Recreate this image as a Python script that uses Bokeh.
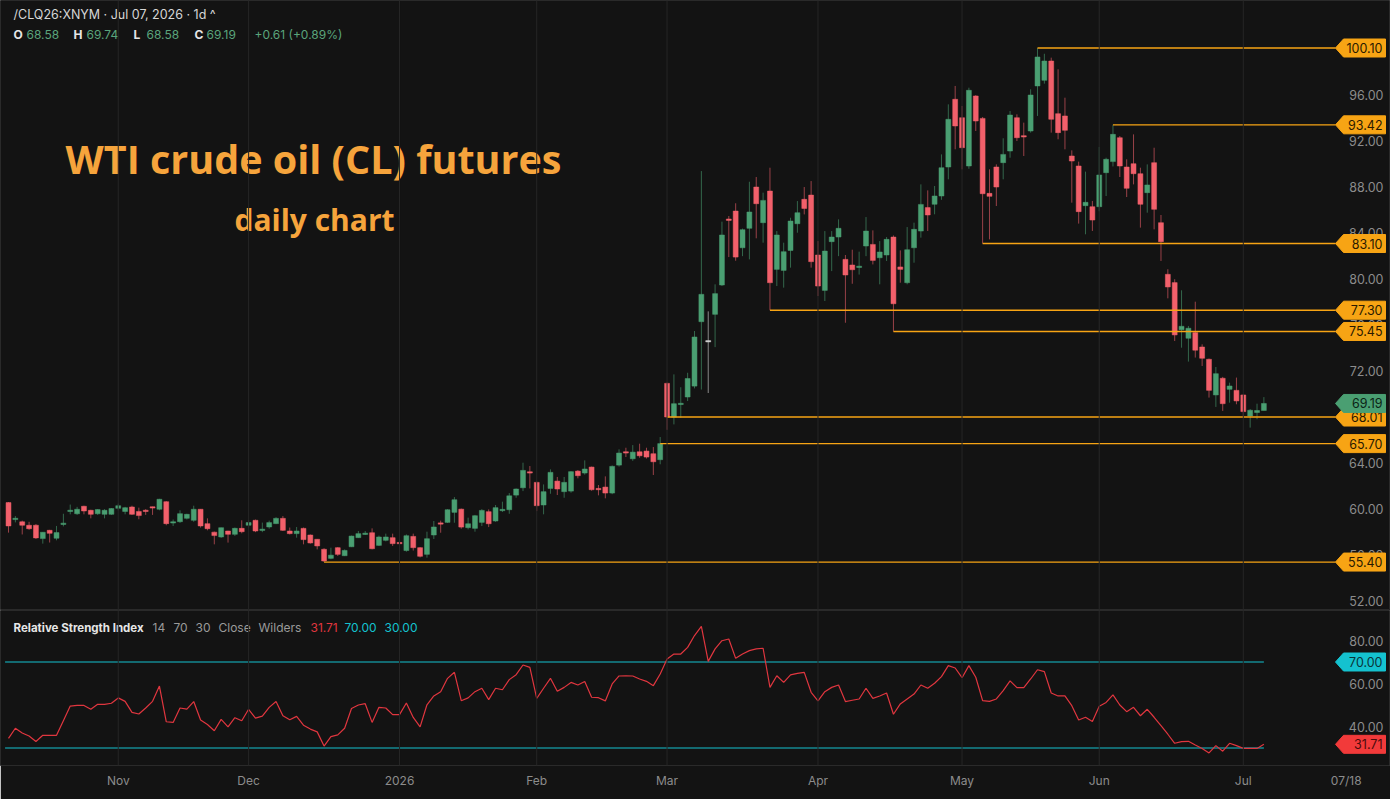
import numpy as np
import pandas as pd
from bokeh.plotting import figure
from bokeh.layouts import column
from bokeh.models import Range1d, ColumnDataSource, Span, FixedTicker
from bokeh.embed import file_html
from bokeh.resources import INLINE
from bokeh.core.properties import value

# ---------------- data ----------------
symbol = "/CLQ26:XNYM"
interval = "1d"
holidays = ["2025-11-27", "2025-12-25", "2026-01-01", "2026-01-19", "2026-02-16",
            "2026-04-03", "2026-05-25", "2026-06-19", "2026-07-03"]
dates = pd.bdate_range("2025-10-10", "2026-07-07", freq="C", holidays=holidays)

open_ = [60.57, 59.10, 58.90, 58.60, 58.60, 57.44, 58.16, 57.47, 58.70, 59.80,
         59.60, 60.25, 59.90, 59.60, 59.55, 59.55, 60.07, 59.80, 60.19, 59.80,
         59.90, 60.20, 59.99, 60.65, 58.80, 58.91, 59.20, 59.03, 59.99, 58.74,
         58.00, 57.58, 58.10, 57.81, 58.33, 58.60, 59.03, 58.16, 58.45, 58.74,
         59.20, 58.10, 57.87, 58.33, 57.75, 57.38, 56.51, 55.72, 56.65, 55.95,
         56.73, 57.52, 57.81, 57.95, 56.85, 57.29, 57.52, 57.10, 56.40, 57.63,
         56.65, 56.07, 57.75, 58.80, 58.85, 59.72, 60.00, 58.39, 58.33, 58.85,
         59.78, 58.97, 59.90, 59.95, 61.22, 61.86, 63.25, 62.33, 60.36, 61.80,
         62.44, 61.52, 61.57, 63.31, 63.14, 63.66, 61.80, 61.92, 61.40, 63.83,
         64.99, 64.38, 64.99, 65.05, 64.82, 64.30, 70.94, 68.00, 69.10, 69.75,
         70.70, 76.30, 74.60, 76.94, 79.49, 85.23, 85.92, 82.73, 84.42, 88.01,
         84.91, 87.66, 80.85, 80.76, 82.50, 84.82, 86.94, 87.31, 82.10, 79.02,
         83.26, 83.66, 81.72, 81.23, 81.03, 82.88, 83.02, 81.86, 82.10, 83.66,
         81.06, 79.69, 82.73, 84.18, 86.22, 86.51, 87.23, 89.75, 95.64, 94.04,
         89.84, 95.93, 93.98, 87.46, 89.75, 90.13, 91.14, 94.04, 92.48, 92.88,
         96.80, 97.29, 98.97, 94.39, 94.19, 90.71, 89.84, 86.39, 86.30, 86.30,
         89.26, 90.22, 92.30, 89.75, 90.04, 89.17, 87.52, 90.13, 84.91, 80.42,
         79.70, 75.60, 74.86, 75.35, 74.10, 73.03, 69.93, 71.38, 70.42, 70.33,
         69.93, 68.10, 68.40, 68.58]
high_ = [60.62, 59.40, 59.00, 58.90, 58.70, 58.00, 58.20, 58.54, 59.60, 60.40,
         60.20, 60.30, 59.95, 60.00, 60.00, 60.10, 60.48, 60.20, 60.30, 60.13,
         60.00, 60.22, 60.90, 60.70, 59.10, 59.90, 59.60, 60.30, 60.00, 59.20,
         58.05, 58.40, 58.12, 58.40, 59.03, 59.03, 59.10, 58.83, 59.00, 59.30,
         59.40, 58.40, 58.45, 58.40, 57.80, 57.40, 56.60, 56.65, 56.70, 56.50,
         57.70, 58.10, 58.10, 58.33, 57.70, 57.87, 57.87, 57.46, 57.80, 57.87,
         56.70, 58.04, 58.97, 59.00, 60.00, 61.05, 60.05, 59.26, 59.50, 60.00,
         59.98, 60.36, 60.65, 61.40, 61.80, 64.04, 63.75, 62.40, 62.15, 63.46,
         62.80, 62.80, 63.30, 63.40, 64.24, 63.70, 62.10, 62.85, 63.80, 65.20,
         65.34, 65.57, 65.69, 65.34, 65.40, 66.27, 71.00, 71.72, 70.60, 71.86,
         75.49, 89.40, 77.20, 79.55, 85.00, 85.49, 86.60, 84.40, 88.47, 88.88,
         87.52, 89.69, 84.18, 83.17, 85.34, 86.79, 88.01, 88.53, 83.31, 84.18,
         84.18, 85.20, 82.10, 82.56, 82.39, 85.40, 84.24, 83.31, 83.66, 83.80,
         82.50, 84.53, 84.91, 88.24, 87.72, 88.10, 90.85, 95.20, 96.80, 95.06,
         96.65, 96.00, 94.10, 89.55, 89.98, 92.25, 94.62, 94.33, 93.61, 96.51,
         100.10, 99.60, 99.26, 98.25, 95.78, 91.20, 90.22, 89.35, 86.80, 91.49,
         90.56, 93.42, 92.45, 90.42, 92.59, 89.69, 89.98, 91.43, 85.58, 80.86,
         79.99, 79.03, 75.93, 78.04, 74.33, 73.10, 72.36, 71.50, 71.00, 71.44,
         70.00, 68.70, 69.17, 69.74]
low_ = [57.96, 58.85, 57.80, 58.20, 57.40, 57.00, 57.10, 57.29, 58.50, 59.55,
        59.50, 59.55, 59.20, 59.50, 59.20, 59.50, 59.90, 59.55, 59.50, 59.12,
        59.50, 59.50, 59.90, 58.60, 58.54, 58.80, 59.10, 58.90, 58.40, 58.16,
        56.94, 57.50, 57.09, 57.67, 57.90, 58.40, 58.00, 58.00, 58.30, 58.70,
        58.10, 57.80, 57.52, 56.94, 57.00, 56.50, 55.40, 55.64, 55.93, 55.92,
        56.70, 57.50, 57.75, 56.50, 56.80, 57.20, 56.80, 56.40, 56.30, 56.40,
        55.80, 55.78, 57.40, 57.95, 58.80, 58.82, 58.30, 58.24, 58.04, 58.53,
        58.44, 58.90, 59.75, 59.60, 60.99, 61.57, 61.80, 59.83, 59.55, 61.34,
        61.23, 60.99, 61.43, 62.68, 63.00, 61.60, 61.20, 60.94, 61.30, 63.70,
        64.53, 64.20, 64.47, 64.40, 62.97, 63.90, 66.90, 67.37, 67.95, 69.40,
        70.50, 70.40, 70.10, 74.09, 79.40, 81.92, 81.60, 82.00, 81.72, 83.55,
        83.17, 77.30, 79.40, 79.26, 81.00, 84.04, 85.63, 81.00, 78.53, 78.10,
        80.70, 82.00, 76.21, 79.60, 80.40, 82.00, 81.28, 79.55, 81.58, 75.45,
        79.69, 79.55, 81.43, 83.61, 84.19, 85.64, 86.90, 88.68, 91.29, 89.55,
        89.60, 92.88, 83.10, 83.46, 86.36, 88.68, 90.56, 92.01, 90.71, 92.74,
        94.19, 97.00, 92.74, 92.16, 91.29, 86.65, 84.83, 83.90, 84.19, 85.90,
        87.23, 89.80, 88.88, 87.14, 88.24, 84.48, 85.78, 84.33, 81.58, 78.33,
        74.62, 74.04, 72.83, 73.18, 72.45, 69.70, 68.89, 68.54, 69.26, 69.12,
        67.96, 67.09, 67.82, 68.58]
close_ = [58.54, 59.20, 58.60, 58.30, 57.50, 57.99, 57.90, 57.96, 58.75, 59.90,
          59.99, 59.84, 59.55, 59.96, 59.90, 60.05, 60.30, 60.13, 59.55, 59.44,
          59.80, 60.10, 60.86, 58.74, 58.90, 59.61, 59.55, 59.99, 58.54, 58.30,
          57.70, 58.39, 57.81, 58.33, 58.04, 58.83, 58.10, 58.25, 58.83, 59.20,
          58.16, 57.87, 58.10, 57.35, 57.06, 56.80, 55.49, 56.00, 56.07, 56.41,
          57.66, 57.87, 57.90, 56.56, 57.58, 57.58, 57.00, 57.00, 57.69, 56.65,
          55.90, 57.43, 58.45, 58.70, 59.95, 60.82, 58.44, 58.73, 59.43, 59.89,
          58.73, 60.13, 59.95, 61.16, 61.75, 63.37, 63.14, 60.30, 61.52, 63.20,
          61.75, 62.33, 63.26, 62.91, 63.49, 61.69, 61.69, 61.40, 63.72, 64.88,
          64.88, 64.96, 64.64, 64.53, 64.12, 65.70, 68.01, 69.17, 69.20, 71.36,
          74.97, 78.68, 74.60, 78.74, 83.84, 85.11, 81.92, 84.30, 85.84, 86.56,
          86.85, 79.69, 83.84, 82.39, 85.05, 85.78, 86.15, 81.52, 79.40, 82.44,
          83.66, 84.42, 80.36, 80.82, 81.11, 84.18, 81.63, 82.36, 83.46, 77.86,
          80.85, 82.56, 84.33, 86.50, 85.58, 87.23, 89.69, 93.90, 93.32, 91.43,
          96.42, 93.75, 87.43, 87.20, 88.01, 90.85, 94.27, 92.30, 92.36, 96.01,
          99.32, 98.97, 93.90, 92.74, 92.94, 90.27, 85.87, 86.68, 85.14, 89.06,
          90.42, 92.59, 89.84, 87.90, 89.17, 86.51, 88.19, 86.07, 83.26, 79.32,
          75.15, 75.90, 75.73, 73.82, 73.12, 70.33, 71.78, 69.17, 70.71, 69.41,
          68.48, 68.60, 68.58, 69.19]
rsi_ = [34.5, 39.2, 37.0, 35.6, 33.0, 35.9, 35.9, 35.9, 42.7, 49.5,
        49.8, 49.8, 48.0, 50.3, 50.3, 50.8, 53.3, 51.7, 46.6, 45.8,
        48.6, 51.7, 58.8, 42.2, 41.9, 48.6, 48.1, 51.6, 43.0, 40.9,
        38.0, 43.3, 39.8, 44.1, 42.7, 48.0, 43.9, 44.8, 48.9, 51.6,
        45.0, 43.1, 44.7, 40.6, 38.8, 37.5, 30.9, 35.3, 36.1, 39.2,
        48.4, 50.0, 50.6, 41.9, 48.9, 48.6, 45.5, 45.5, 50.9, 44.2,
        39.8, 50.1, 54.2, 56.2, 62.4, 65.2, 52.0, 53.3, 56.2, 57.8,
        52.5, 57.8, 57.1, 61.8, 64.1, 68.6, 67.5, 53.1, 57.8, 62.4,
        56.4, 58.2, 60.5, 59.3, 60.9, 53.6, 53.4, 51.9, 59.8, 63.5,
        63.6, 63.5, 62.1, 61.0, 59.0, 64.4, 71.4, 73.7, 73.7, 76.8,
        82.3, 86.6, 70.3, 76.1, 79.9, 80.7, 71.7, 73.7, 75.3, 76.1,
        76.4, 58.2, 63.6, 60.5, 64.0, 64.7, 65.2, 55.9, 51.9, 56.2,
        58.2, 59.3, 51.6, 52.2, 52.8, 57.8, 53.1, 54.2, 55.6, 45.7,
        50.5, 52.8, 55.1, 59.3, 57.8, 60.1, 63.2, 68.3, 67.2, 62.7,
        68.3, 62.9, 52.0, 51.7, 52.8, 56.7, 61.2, 58.1, 58.1, 62.1,
        66.4, 65.5, 55.6, 54.2, 54.2, 49.7, 43.0, 44.3, 42.3, 49.4,
        51.2, 54.7, 50.0, 46.9, 48.9, 45.0, 48.0, 44.3, 40.4, 36.4,
        32.2, 33.0, 33.1, 31.4, 29.8, 27.7, 31.1, 28.5, 32.2, 31.1,
        29.8, 29.8, 29.8, 31.71]

level_values = [100.10, 93.42, 83.10, 77.30, 75.45, 68.01, 65.70, 55.40]
level_dates = ["2026-05-18", "2026-06-03", "2026-05-06", "2026-03-23",
               "2026-04-17", "2026-03-02", "2026-02-27", "2025-12-16"]
price_ticks = [52, 56, 60, 64, 68, 72, 76, 80, 84, 88, 92, 96]
rsi_ticks = [40, 60, 80]
rsi_bands = [70, 30]
rsi_params = ["14", "70", "30", "Close", "Wilders"]
future_label = "07/18"
title_text = "WTI crude oil (CL) futures"
subtitle_text = "daily chart"

# ---------------- style / layout ----------------
BG = "#131313"
GRID = "#262626"
GREEN = "#4a9f72"
RED = "#f2606b"
DOJI = "#d9d9d9"
ORANGE = "#f7a414"
TITLE_C = "#f6a43c"
CYAN = "#14c2cf"
RSI_C = "#e0363f"
AX_TXT = "#8c8c8c"
FONT = "Inter"

W = 1390
H_PRICE = 610
H_RSI = 189
AX_H = 34
PXB = 6.86          # px per bar
X0 = 8.0            # px of first bar
P_PX = 11.5         # px per price unit
R_PX = 2.15         # px per RSI unit

n = len(close_)
idx = np.arange(n)
x_lo = -X0 / PXB
x_hi = (W - X0) / PXB
xr = Range1d(x_lo, x_hi)

P_TOP = 100.10 + 47.5 / P_PX
P_BOT = P_TOP - H_PRICE / P_PX
R_TOP = 70 + 51.5 / R_PX
R_BOT = R_TOP - (H_RSI - AX_H) / R_PX


def xd(px):
    return x_lo + px / PXB


def yp(py):
    return P_TOP - py / P_PX


def yr(py):
    return R_TOP - (py - H_PRICE) / R_PX


month_pos = []
month_lab = []
prev = None
for i, d in enumerate(dates):
    key = (d.year, d.month)
    if prev is not None and key != prev:
        month_pos.append(i)
        month_lab.append(str(d.year) if d.month == 1 else d.strftime("%b"))
    prev = key

p = figure(width=W, height=H_PRICE, x_range=xr, y_range=Range1d(P_BOT, P_TOP),
           output_backend="svg", toolbar_location=None, min_border=0,
           x_axis_location=None, y_axis_location=None,
           background_fill_color=BG, border_fill_color=BG,
           outline_line_color="#2a2a2a")
p.grid.visible = False

for m in month_pos:
    p.add_layout(Span(location=m, dimension="height", line_color=GRID, line_width=1))

o = np.array(open_); h = np.array(high_); l = np.array(low_); c = np.array(close_)
cols = np.where(c > o, GREEN, np.where(c < o, RED, DOJI))
top = np.maximum(o, c)
bot = np.minimum(o, c)
mid = (top + bot) / 2
mh = 1.3 / P_PX
small = (top - bot) < mh
top = np.where(small, mid + mh / 2, top)
bot = np.where(small, mid - mh / 2, bot)
src = ColumnDataSource(dict(x=idx, h=h, l=l, top=top, bot=bot, col=cols))
p.segment(x0="x", y0="l", x1="x", y1="h", line_color="col", line_alpha=0.6,
          line_width=1, source=src)
p.vbar(x="x", width=0.72, top="top", bottom="bot", fill_color="col",
       line_color="col", line_width=0.5, source=src)

# price tick labels
p.text(x=[xd(1383)] * len(price_ticks), y=price_ticks,
       text=["%.2f" % v for v in price_ticks], text_align="right",
       text_baseline="middle", text_color=AX_TXT, text_font=value(FONT),
       text_font_size="12.5px")

TIP, CORNER, RIGHT, HALF = 1335, 1343, 1385, 9


def tag(fig, yv, ppu, fill, label, tcolor):
    xs = [xd(TIP), xd(CORNER), xd(RIGHT), xd(RIGHT), xd(CORNER)]
    hh = HALF / ppu
    ys = [yv, yv + hh, yv + hh, yv - hh, yv - hh]
    fig.patch(xs, ys, fill_color=fill, line_color=fill)
    fig.text(x=[xd(1382)], y=[yv], text=[label], text_align="right",
             text_baseline="middle", text_color=tcolor, text_font=value(FONT),
             text_font_size="12.5px")


# level lines
lvl_start = [dates.get_loc(pd.Timestamp(d)) for d in level_dates]
for s, v in zip(lvl_start, level_values):
    p.line([s, xd(TIP)], [v, v], line_color=ORANGE, line_width=1.35)
for v in level_values:
    tag(p, v, P_PX, ORANGE, "%.2f" % v, "#2a1a00")
tag(p, close_[-1], P_PX, GREEN, "%.2f" % close_[-1], "#0c2416")

# header
chg = close_[-1] - close_[-2]
pct = chg / close_[-2] * 100
hdr1 = "%s · %s · %s ^" % (symbol, dates[-1].strftime("%b %d, %Y"), interval)
p.text(x=[xd(13)], y=[yp(14)], text=[hdr1], text_baseline="middle",
       text_color="#d6d6d6", text_font=value(FONT), text_font_size="12.5px")
seg = [("O", 13, "#e6e6e6", "bold"), ("%.2f" % open_[-1], 26, "#5aa57c", "normal"),
       ("H", 73, "#e6e6e6", "bold"), ("%.2f" % high_[-1], 86, "#5aa57c", "normal"),
       ("L", 133, "#e6e6e6", "bold"), ("%.2f" % low_[-1], 146, "#5aa57c", "normal"),
       ("C", 194, "#e6e6e6", "bold"), ("%.2f" % close_[-1], 206, "#5aa57c", "normal"),
       ("%+.2f (%+.2f%%)" % (chg, pct), 254, "#5aa57c", "normal")]
for t, px, colr, st in seg:
    p.text(x=[xd(px)], y=[yp(34)], text=[t], text_baseline="middle",
           text_color=colr, text_font=value(FONT), text_font_size="12px",
           text_font_style=st)

p.text(x=[xd(313)], y=[yp(158)], text=[title_text], text_align="center",
       text_baseline="middle", text_color=TITLE_C, text_font=value("Open Sans"),
       text_font_size="39.5px", text_font_style="bold")
p.text(x=[xd(314)], y=[yp(219)], text=[subtitle_text], text_align="center",
       text_baseline="middle", text_color=TITLE_C, text_font=value("Open Sans"),
       text_font_size="30px", text_font_style="bold")

# ---------------- RSI pane ----------------
r = figure(width=W, height=H_RSI, x_range=xr, y_range=Range1d(R_BOT, R_TOP),
           output_backend="svg", toolbar_location=None, min_border=0,
           min_border_bottom=AX_H, y_axis_location=None,
           background_fill_color=BG, border_fill_color=BG,
           outline_line_color="#2a2a2a")
r.grid.visible = False
for m in month_pos:
    r.add_layout(Span(location=m, dimension="height", line_color=GRID, line_width=1))

tick_pos = month_pos + [n - 1 + 12]
tick_lab = month_lab + [future_label]
r.xaxis.ticker = FixedTicker(ticks=tick_pos)
r.xaxis.major_label_overrides = {k: v for k, v in zip(tick_pos, tick_lab)}
r.xaxis.axis_line_color = None
r.xaxis.major_tick_line_color = None
r.xaxis.minor_tick_line_color = None
r.xaxis.major_tick_out = 0
r.xaxis.major_tick_in = 0
r.xaxis.major_label_standoff = 7
r.xaxis.major_label_text_color = AX_TXT
r.xaxis.major_label_text_font = FONT
r.xaxis.major_label_text_font_size = "12px"

for b in rsi_bands:
    r.line([-0.5, n - 1], [b, b], line_color=CYAN, line_width=1.1)
r.line(idx, rsi_, line_color=RSI_C, line_width=1.2)

r.text(x=[xd(1383)] * len(rsi_ticks), y=rsi_ticks,
       text=["%.2f" % v for v in rsi_ticks], text_align="right",
       text_baseline="middle", text_color=AX_TXT, text_font=value(FONT),
       text_font_size="12.5px")
tag(r, 70, R_PX, CYAN, "70.00", "#0b3438")
tag(r, rsi_[-1], R_PX, "#f23a3a", "%.2f" % rsi_[-1], "#4a0b0b")

rseg = [("Relative Strength Index", 13, "#e6e6e6", "bold", "11.5px")]
pos = [152, 173, 195, 218, 258]
for t, px in zip(rsi_params, pos):
    rseg.append((t, px, "#9a9a9a", "normal", "12px"))
rseg += [("%.2f" % rsi_[-1], 310, RSI_C, "normal", "12px"),
         ("%.2f" % rsi_bands[0], 344, CYAN, "normal", "12px"),
         ("%.2f" % rsi_bands[1], 384, CYAN, "normal", "12px")]
for t, px, colr, st, fs in rseg:
    r.text(x=[xd(px)], y=[yr(627)], text=[t], text_baseline="middle",
           text_color=colr, text_font=value(FONT), text_font_size=fs,
           text_font_style=st)

layout = column(p, r, spacing=0)
open("out.html", "w").write(file_html(layout, INLINE))
